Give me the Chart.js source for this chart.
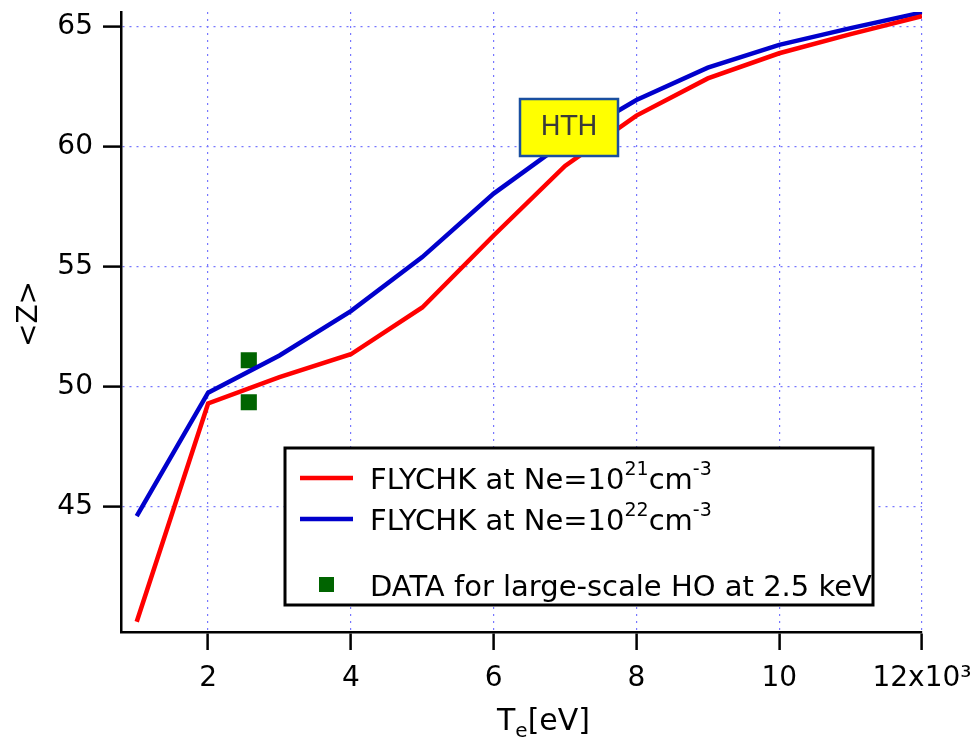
<!DOCTYPE html>
<html>
<head>
<meta charset="utf-8">
<title>Average ionization vs Te</title>
<script src="https://cdn.jsdelivr.net/npm/chart.js@4.4.1/dist/chart.umd.min.js"></script>
<style>
  html, body { margin: 0; padding: 0; background: #fff; }
  #wrap { width: 980px; height: 739px; position: relative; }
</style>
</head>
<body>
<div id="wrap"><canvas id="zChart"></canvas></div>
<script>
// Te in units of 10^3 eV
const temps = [1, 2, 3, 4, 5, 6, 7, 8, 9, 10, 11, 12];
const zNe21 = [40.2, 49.3, 50.4, 51.35, 53.3, 56.3, 59.2, 61.3, 62.85, 63.9, 64.7, 65.45];
const zNe22 = [44.6, 49.75, 51.3, 53.15, 55.4, 58.05, 60.2, 61.95, 63.3, 64.25, 64.95, 65.6];
const dataTemps = [2.57, 2.57];
const dataZ = [51.1, 49.35];
const xTicks = [2, 4, 6, 8, 10, 12];
const yTicks = [45, 50, 55, 60, 65];

const FONT = '"DejaVu Sans", Verdana, sans-serif';

// draws a run of text pieces [text, size, dy] left to right
function drawRich(ctx, x, y, parts) {
    parts.forEach(p => {
        ctx.font = p[1] + 'px ' + FONT;
        ctx.fillText(p[0], x, y + (p[2] || 0));
        x += ctx.measureText(p[0]).width;
    });
    return x;
}

// ============================================
// Overlay: axis titles, HTH label, legend box
// ============================================
const overlayPlugin = {
    id: 'overlay',
    afterDraw(chart) {
        const ctx = chart.ctx;
        ctx.save();
        ctx.fillStyle = '#000';
        ctx.textBaseline = 'alphabetic';
        ctx.textAlign = 'left';

        // x title  T_e[eV]
        let x = drawRich(ctx, 497, 730, [['T', 30]]);
        x = drawRich(ctx, x, 737, [['e', 20]]);
        drawRich(ctx, x, 730, [['[eV]', 30]]);

        // y title <Z>
        ctx.save();
        ctx.translate(30, 314);
        ctx.rotate(-Math.PI / 2);
        ctx.textAlign = 'center';
        ctx.textBaseline = 'middle';
        ctx.font = '28px ' + FONT;
        ctx.fillText('<Z>', 0, 0);
        ctx.restore();

        // HTH tag
        ctx.fillStyle = '#ffff00';
        ctx.fillRect(520, 99, 98, 57);
        ctx.strokeStyle = '#1a4fa0';
        ctx.lineWidth = 2.5;
        ctx.strokeRect(520, 99, 98, 57);
        ctx.fillStyle = '#3a3a3a';
        ctx.font = '27px ' + FONT;
        ctx.textAlign = 'center';
        ctx.textBaseline = 'middle';
        ctx.fillText('HTH', 569, 128);

        // legend box
        ctx.fillStyle = '#fff';
        ctx.fillRect(285, 448, 588, 157);
        ctx.strokeStyle = '#000';
        ctx.lineWidth = 3;
        ctx.strokeRect(285, 448, 588, 157);

        ctx.textAlign = 'left';
        ctx.textBaseline = 'alphabetic';
        ctx.lineWidth = 4.5;
        ctx.strokeStyle = '#ff0000';
        ctx.beginPath(); ctx.moveTo(300, 478); ctx.lineTo(353, 478); ctx.stroke();
        ctx.strokeStyle = '#0000cc';
        ctx.beginPath(); ctx.moveTo(300, 519); ctx.lineTo(353, 519); ctx.stroke();

        ctx.fillStyle = '#006400';
        ctx.fillRect(319, 577, 15, 15);

        ctx.fillStyle = '#000';
        drawRich(ctx, 370, 489, [['FLYCHK at Ne=10', 29], ['21', 19, -14], ['cm', 29], ['-3', 19, -14]]);
        drawRich(ctx, 370, 530, [['FLYCHK at Ne=10', 29], ['22', 19, -14], ['cm', 29], ['-3', 19, -14]]);
        drawRich(ctx, 370, 596, [['DATA for large-scale HO at 2.5 keV', 29]]);
        ctx.restore();
    }
};

function initializeZChart() {
    const ctx = document.getElementById('zChart').getContext('2d');

    new Chart(ctx, {
        type: 'line',
        data: {
            datasets: [{
                label: 'FLYCHK at Ne=1e21',
                data: temps.map((t, i) => ({ x: t, y: zNe21[i] })),
                borderColor: '#ff0000',
                borderWidth: 4.5,
                pointRadius: 0,
                tension: 0,
                fill: false
            }, {
                label: 'FLYCHK at Ne=1e22',
                data: temps.map((t, i) => ({ x: t, y: zNe22[i] })),
                borderColor: '#0000cc',
                borderWidth: 4.5,
                pointRadius: 0,
                tension: 0,
                fill: false
            }, {
                label: 'DATA for large-scale HO at 2.5 keV',
                data: dataTemps.map((t, i) => ({ x: t, y: dataZ[i] })),
                showLine: false,
                pointStyle: 'rect',
                pointRadius: 10,
                backgroundColor: '#006400',
                borderColor: '#006400',
                borderWidth: 2
            }]
        },
        options: {
            responsive: true,
            maintainAspectRatio: false,
            animation: false,
            layout: { padding: { top: 9, right: 58, left: 0, bottom: 0 } },
            plugins: {
                legend: { display: false },
                tooltip: { enabled: false }
            },
            scales: {
                x: {
                    type: 'linear',
                    min: 0.78,
                    max: 12,
                    afterBuildTicks: scale => { scale.ticks = xTicks.map(v => ({ value: v })); },
                    afterFit: scale => {
                        scale.height = 107;
                        scale.paddingLeft = 0;
                        scale.paddingRight = 0;
                    },
                    ticks: {
                        color: '#000',
                        padding: 12,
                        maxRotation: 0,
                        autoSkip: false,
                        font: { family: FONT, size: 28 },
                        callback: v => v === 12 ? '12x10\u00b3' : String(v)
                    },
                    grid: {
                        color: '#7777ff',
                        lineWidth: 1.2,
                        tickColor: '#000',
                        tickWidth: 2.5,
                        tickLength: 18
                    },
                    border: { color: '#000', width: 2.5, dash: [2, 5] }
                },
                y: {
                    min: 39.77,
                    max: 65.62,
                    afterBuildTicks: scale => { scale.ticks = yTicks.map(v => ({ value: v })); },
                    afterFit: scale => {
                        scale.width = 121;
                        scale.paddingTop = 0;
                        scale.paddingBottom = 0;
                    },
                    ticks: {
                        color: '#000',
                        padding: 10,
                        font: { family: FONT, size: 28 }
                    },
                    grid: {
                        color: '#7777ff',
                        lineWidth: 1.2,
                        tickColor: '#000',
                        tickWidth: 2.5,
                        tickLength: 18
                    },
                    border: { color: '#000', width: 2.5, dash: [2, 5] }
                }
            }
        },
        plugins: [overlayPlugin]
    });
}

initializeZChart();
</script>
</body>
</html>
